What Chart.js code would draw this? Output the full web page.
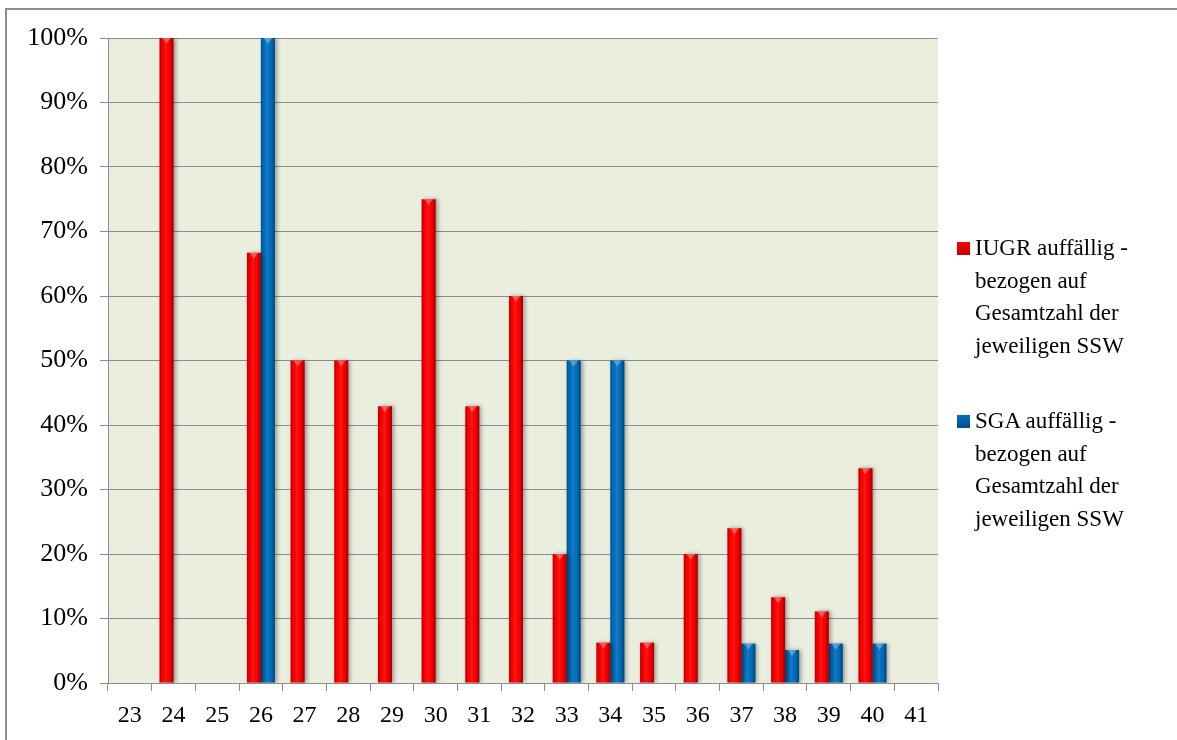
<!DOCTYPE html>
<html>
<head>
<meta charset="utf-8">
<script src="https://cdn.jsdelivr.net/npm/chart.js@4"></script>
<style>
  html, body { margin: 0; padding: 0; background: #fff; overflow: hidden; }
  #wrap { position: relative; width: 1177px; height: 740px; }
  #frame { position: absolute; left: 5px; top: 8px; width: 1250px; height: 800px;
           border: 2px solid #8f8f8f; box-sizing: border-box; pointer-events: none; }
  #c { position: absolute; left: 0; top: 0; }
  #legend { position: absolute; left: 956px; top: 0; font-family: "Liberation Serif", serif;
            font-size: 23px; line-height: 32.5px; color: #000; }
  .item { position: absolute; left: 0; white-space: nowrap; }
  .sw { position: absolute; left: 1px; top: 10px; width: 13px; height: 13px; }
  .txt { position: absolute; left: 19px; top: 0; }
</style>
</head>
<body>
<div id="wrap">
  <canvas id="c" width="1177" height="740"></canvas>
  <div id="frame"></div>
  <div id="legend"></div>
</div>
<script>
// Gestational week (SSW) categories
const weeks = ['23','24','25','26','27','28','29','30','31','32','33','34','35','36','37','38','39','40','41'];
// Share of abnormal IUGR cases per week, in percent
const iugrValues = [null, 100, null, 66.7, 50, 50, 42.9, 75, 42.9, 60, 20, 6.25, 6.25, 20, 24, 13.3, 11.1, 33.3, null];
// Share of abnormal SGA cases per week, in percent
const sgaValues = [null, null, null, 100, null, null, null, null, null, null, 50, 50, null, null, 6.1, 5.1, 6.1, 6.1, null];
// Y axis tick values
const yTicks = [0, 10, 20, 30, 40, 50, 60, 70, 80, 90, 100];
// Legend text, one entry per series, broken into lines
const iugrLegend = ['IUGR auffällig -', 'bezogen auf', 'Gesamtzahl der', 'jeweiligen SSW'];
const sgaLegend = ['SGA auffällig -', 'bezogen auf', 'Gesamtzahl der', 'jeweiligen SSW'];

const RED = '#ff0000', BLUE = '#0070c0';
const GRID = '#8c8c8c';

// Plot-area background
const plotBackground = {
  id: 'plotBackground',
  beforeDraw(chart) {
    const { ctx, chartArea: a } = chart;
    ctx.save();
    ctx.fillStyle = '#eaeedf';
    ctx.fillRect(a.left, a.top, a.right - a.left, a.bottom - a.top);
    ctx.restore();
  }
};

// Soft drop shadow and cylinder-like shading on the bars
const barShading = {
  id: 'barShading',
  beforeDatasetsDraw(chart) {
    const ctx = chart.ctx;
    ctx.save();
    ctx.shadowColor = 'rgba(0,0,0,0.35)';
    ctx.shadowBlur = 4;
    ctx.shadowOffsetX = 2;
    ctx.shadowOffsetY = 0;
  },
  afterDatasetsDraw(chart) {
    const ctx = chart.ctx;
    ctx.restore();
    ctx.save();
    chart.data.datasets.forEach((ds, i) => {
      const meta = chart.getDatasetMeta(i);
      meta.data.forEach((bar, j) => {
        if (ds.data[j] == null) return;
        const { x, y, base, width } = bar.getProps(['x', 'y', 'base', 'width'], true);
        const l = x - width / 2;
        const g = ctx.createLinearGradient(l, 0, l + width, 0);
        g.addColorStop(0, 'rgba(0,0,0,0.30)');
        g.addColorStop(0.22, 'rgba(0,0,0,0.0)');
        g.addColorStop(0.45, 'rgba(255,255,255,0.10)');
        g.addColorStop(0.7, 'rgba(0,0,0,0.0)');
        g.addColorStop(1, 'rgba(0,0,0,0.38)');
        ctx.fillStyle = g;
        ctx.fillRect(l, y, width, base - y);
        // small bevel highlight at the top of each bar
        const h = Math.min(6, base - y);
        ctx.fillStyle = 'rgba(255,255,255,0.30)';
        ctx.beginPath();
        ctx.moveTo(l + width * 0.2, y);
        ctx.lineTo(l + width * 0.8, y);
        ctx.lineTo(x, y + h);
        ctx.closePath();
        ctx.fill();
      });
    });
    ctx.restore();
  }
};

const chart = new Chart(document.getElementById('c'), {
  type: 'bar',
  data: {
    labels: weeks,
    datasets: [
      { label: iugrLegend.join(' '), data: iugrValues, backgroundColor: RED, borderColor: '#c00000', borderWidth: 0 },
      { label: sgaLegend.join(' '), data: sgaValues, backgroundColor: BLUE, borderColor: '#004f88', borderWidth: 0 }
    ]
  },
  options: {
    responsive: false,
    animation: false,
    events: [],
    categoryPercentage: 0.64,
    barPercentage: 1.0,
    layout: { padding: { top: 38, right: 239, left: 0, bottom: 0 } },
    plugins: { legend: { display: false }, tooltip: { enabled: false } },
    scales: {
      x: {
        grid: { offset: true, drawOnChartArea: false, drawTicks: true, tickLength: 8, color: GRID },
        border: { color: GRID, width: 1 },
        ticks: { font: { family: 'Liberation Serif', size: 24 }, color: '#000', padding: 10, maxRotation: 0, autoSkip: false },
        afterFit(scale) { scale.height = 57; }
      },
      y: {
        min: 0, max: 100,
        afterBuildTicks(scale) { scale.ticks = yTicks.map(v => ({ value: v })); },
        grid: { color: GRID, tickLength: 8 },
        border: { color: GRID, width: 1 },
        ticks: { font: { family: 'Liberation Serif', size: 26 }, color: '#000', padding: 12, callback: v => v + '%' },
        afterFit(scale) { scale.width = 108; }
      }
    }
  },
  plugins: [plotBackground, barShading]
});

// Legend built from the chart's datasets
const legendEl = document.getElementById('legend');
const legendLines = [iugrLegend, sgaLegend];
const legendTops = [232, 405];
chart.data.datasets.forEach((ds, i) => {
  const item = document.createElement('div');
  item.className = 'item';
  item.style.top = legendTops[i] + 'px';
  const sw = document.createElement('div');
  sw.className = 'sw';
  sw.style.background = `linear-gradient(180deg, ${ds.backgroundColor} 0%, ${ds.borderColor} 100%)`;
  const txt = document.createElement('div');
  txt.className = 'txt';
  txt.innerHTML = legendLines[i].join('<br>');
  item.appendChild(sw);
  item.appendChild(txt);
  legendEl.appendChild(item);
});
</script>
</body>
</html>
